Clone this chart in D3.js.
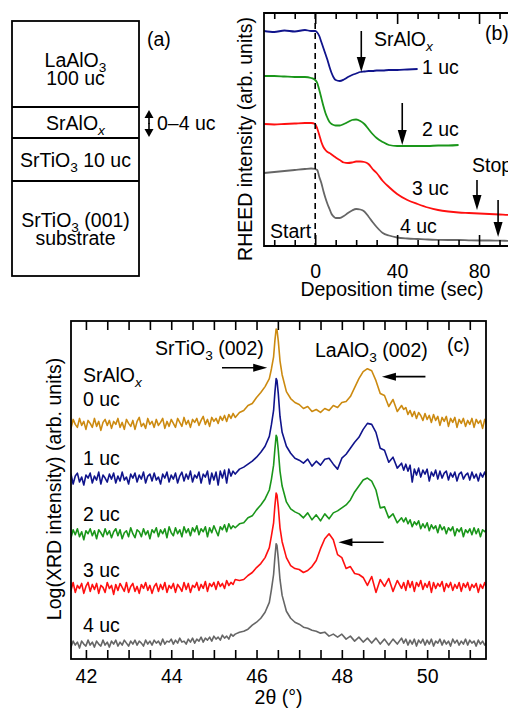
<!DOCTYPE html>
<html>
<head>
<meta charset="utf-8">
<script src="https://cdn.jsdelivr.net/npm/d3@7"></script>
<style>
  body { margin: 0; background: #fff; }
  svg { display: block; font-family: "Liberation Sans", Arial, Helvetica, sans-serif; }
</style>
</head>
<body>
<div id="chart"></div>
<script>
// ---------- data ----------
// (b) RHEED: deposition time (sec) and intensity (arb. units), null = not recorded
let rheedTime = [-25, -20, -15, -10, -5, -2, 0, 1, 2, 3, 4, 5, 6, 7, 8, 9, 10,
    12, 14, 16, 18, 20, 22, 24, 26, 28, 30, 33, 36, 40,
    45, 50, 55, 60, 65, 70, 75, 80, 85, 90, 95, 100];
let rheed1uc = [21.5, 21.4, 21.55, 21.45, 21.6, 21.5, 21.5, 21.35, 21.0, 20.4, 19.8, 19.2, 18.6, 17.9, 17.3, 16.85, 16.6,
    16.5, 16.65, 16.9, 17.1, 17.25, 17.4, 17.45, 17.5, 17.5, 17.55, 17.55, 17.6, 17.6,
    17.65, 17.7, null, null, null, null, null, null, null, null, null, null];
let rheed2uc = [17.0, 17.0, 16.95, 16.9, 16.9, 16.8, 16.6, 16.3, 15.6, 14.8, 14.0, 13.3, 12.8, 12.4, 12.2, 12.1, 12.05,
    12.05, 12.2, 12.4, 12.6, 12.65, 12.5, 12.2, 11.7, 11.2, 10.8, 10.4, 10.1, 10.0,
    10.0, 10.0, 10.0, 10.05, 10.05, 10.1, null, null, null, null, null, null];
let rheed3uc = [12.2, 12.15, 12.2, 12.25, 12.3, 12.3, 12.2, 11.75, 11.1, 10.4, 9.9, 9.6, 9.4, 9.3, 9.15, 9.0, 8.85,
    8.6, 8.35, 8.3, 8.35, 8.45, 8.45, 8.4, 8.2, 7.7, 7.3, 6.5, 5.9, 5.2,
    4.6, 4.2, 3.85, 3.6, 3.45, 3.35, 3.3, 3.25, 3.2, 3.15, 3.1, 3.1];
let rheed4uc = [7.3, 7.4, 7.5, 7.6, 7.7, 7.75, 7.7, 7.6, 6.9, 6.3, 5.5, 4.8, 4.2, 3.7, 3.2, 2.95, 2.8,
    2.8, 3.0, 3.3, 3.55, 3.7, 3.65, 3.45, 2.95, 2.4, 1.9, 1.3, 1.05, 0.85,
    0.75, 0.7, 0.65, 0.62, 0.6, 0.6, 0.57, 0.55, 0.55, 0.53, 0.52, 0.5];
let rheedLabels = ['1 uc', '2 uc', '3 uc', '4 uc'];
let rheedTicks = [0, 40, 80];

// (c) XRD: 2theta (deg) and log intensity above each trace's own background
let twoTheta = [
    41.6, 41.65, 41.7, 41.75, 41.8, 41.85, 41.9, 41.95, 42.0, 42.05,
    42.1, 42.15, 42.2, 42.25, 42.3, 42.35, 42.4, 42.45, 42.5, 42.55,
    42.6, 42.65, 42.7, 42.75, 42.8, 42.85, 42.9, 42.95, 43.0, 43.05,
    43.1, 43.15, 43.2, 43.25, 43.3, 43.35, 43.4, 43.45, 43.5, 43.55,
    43.6, 43.65, 43.7, 43.75, 43.8, 43.85, 43.9, 43.95, 44.0, 44.05,
    44.1, 44.15, 44.2, 44.25, 44.3, 44.35, 44.4, 44.45, 44.5, 44.55,
    44.6, 44.65, 44.7, 44.75, 44.8, 44.85, 44.9, 44.95, 45.0, 45.05,
    45.1, 45.15, 45.2, 45.25, 45.3, 45.35, 45.4, 45.45, 45.5,
    45.6, 45.7, 45.8, 45.9, 46.0, 46.1, 46.2, 46.3,
    46.35, 46.4, 46.43, 46.46, 46.48, 46.51, 46.55,
    46.6, 46.7, 46.8, 46.9, 47.0, 47.1, 47.2, 47.3, 47.4, 47.5,
    47.6, 47.7, 47.8, 47.9, 48.0, 48.1, 48.2, 48.3, 48.4, 48.5,
    48.6, 48.7, 48.8, 48.9, 49.0, 49.1, 49.2, 49.3, 49.4,
    49.45, 49.5, 49.55, 49.6, 49.65, 49.7, 49.75, 49.8, 49.85, 49.9,
    49.95, 50.0, 50.05, 50.1, 50.15, 50.2, 50.25, 50.3, 50.35, 50.4,
    50.45, 50.5, 50.55, 50.6, 50.65, 50.7, 50.75, 50.8, 50.85, 50.9,
    50.95, 51.0, 51.05, 51.1, 51.15, 51.2, 51.25, 51.3, 51.35, 51.4
];
let xrd0uc = [
    0.2, -0.4, 0.5, 0.0, -0.3, 0.6, -0.1, 0.3, -0.5, 0.4,
    0.1, -0.3, 0.6, -0.2, 0.3, -0.6, 0.2, 0.5, -0.1, 0.4,
    -0.4, 0.3, 0.0, 0.6, -0.3, 0.2, -0.5, 0.5, 0.1, -0.2,
    0.4, -0.5, 0.3, 0.7, -0.2, 0.1, -0.4, 0.6, 0.0, 0.3,
    -0.3, 0.5, -0.1, 0.2, 0.6, -0.4, 0.3, -0.2, 0.5, 0.1,
    -0.3, 0.6, 0.2, -0.2, 0.7, 0.0, 0.4, -0.3, 0.5, 0.2,
    0.6, -0.1, 0.4, 0.8, 0.0, 0.5, -0.2, 0.7, 0.3, 0.6,
    0.1, 0.8, 0.4, 0.9, 0.3, 1.0, 0.6, 1.1, 0.7,
    1.2, 1.4, 1.9, 2.1, 2.7, 3.2, 3.8, 4.6,
    5.6, 6.8, 8.4, 9.6, 9.5, 8.4, 6.4,
    5.0, 3.3, 2.6, 2.2, 2.0, 1.6, 1.8, 1.3, 1.5, 1.2,
    1.6, 1.4, 1.9, 1.7, 2.2, 2.3, 2.8, 3.7, 4.6, 5.3,
    5.6, 5.4, 4.4, 3.1, 2.9, 1.8, 2.5, 1.3, 1.9,
    1.5, 1.7, 1.0, 1.4, 0.8, 1.3, 0.6, 1.2, 0.9, 0.4,
    1.1, 0.5, 0.9, 0.2, 1.0, 0.4, 0.8, -0.1, 0.7, 0.3,
    0.8, -0.2, 0.6, 0.2, 0.7, -0.3, 0.5, 0.1, 0.6, -0.2,
    0.4, 0.0, 0.6, -0.3, 0.5, 0.1, 0.4, -0.4, 0.5, 0.0
];
let xrd1uc = [
    -0.3, 0.4, -0.6, 0.2, 0.5, -0.4, 0.1, -0.7, 0.3, 0.0,
    0.5, -0.5, 0.2, -0.2, 0.6, -0.6, 0.3, 0.0, -0.4, 0.4,
    -0.1, 0.5, -0.5, 0.2, -0.3, 0.6, -0.2, 0.1, -0.6, 0.4,
    0.0, 0.5, -0.4, 0.3, -0.1, 0.6, -0.5, 0.2, 0.4, -0.3,
    0.5, -0.2, 0.1, -0.6, 0.4, 0.0, 0.6, -0.4, 0.3, -0.1,
    0.5, -0.5, 0.2, 0.6, -0.3, 0.4, -0.1, 0.7, -0.4, 0.3,
    0.0, 0.6, -0.5, 0.4, 0.1, 0.7, -0.6, 0.5, -0.2, 0.6,
    -0.7, 0.7, 0.0, 0.8, -0.5, 0.9, 0.2, 0.7, 0.4,
    0.9, 1.1, 1.4, 1.7, 2.1, 2.6, 3.2, 4.2,
    5.4, 6.8, 8.6, 10.0, 9.8, 8.5, 6.2,
    4.6, 3.2, 2.5, 2.0, 1.8, 1.5, 1.9, 1.2, 1.7, 1.3,
    1.9, 2.0, 1.4, 0.9, 2.0, 2.4, 3.0, 3.6, 4.1, 4.9,
    5.5, 5.4, 4.6, 3.0, 2.8, 1.6, 2.1, 1.0, 1.5,
    0.8, 1.4, 0.7, 1.3, -0.4, 0.9, 0.3, 1.0, 0.1, 0.8,
    0.4, 0.9, -0.3, 0.6, 0.2, 0.8, -0.1, 0.7, 0.0, 0.5,
    0.7, -0.2, 0.5, 0.1, 0.6, -0.3, 0.4, 0.6, -0.1, 0.3,
    0.5, -0.2, 0.6, 0.0, 0.4, -0.3, 0.5, 0.1, 0.6, 0.0
];
let xrd2uc = [
    0.2, -0.4, 0.4, -0.1, 0.5, -0.3, 0.2, -0.6, 0.3, 0.0,
    0.5, -0.2, 0.3, -0.5, 0.4, 0.1, -0.3, 0.5, -0.1, 0.3,
    -0.4, 0.2, 0.5, -0.2, 0.4, -0.5, 0.1, 0.3, -0.3, 0.6,
    0.0, -0.4, 0.4, 0.2, -0.3, 0.5, -0.1, 0.3, -0.5, 0.4,
    0.1, 0.6, -0.3, 0.4, 0.0, 0.5, -0.4, 0.7, 0.1, -0.2,
    0.6, 0.0, 0.4, -0.3, 0.7, 0.1, 0.5, -0.2, 0.6, 0.2,
    0.8, -0.1, 0.5, 0.2, 0.7, -0.3, 0.6, 0.1, 0.8, 0.3,
    -0.2, 0.7, 0.4, 0.9, 0.2, 1.0, 0.5, 0.8, 0.6,
    1.0, 1.1, 1.6, 1.8, 2.4, 2.9, 3.5, 4.4,
    5.5, 6.9, 8.5, 9.9, 9.7, 8.4, 6.3,
    4.8, 3.2, 2.5, 2.2, 2.0, 1.6, 2.1, 1.4, 1.9, 1.3,
    2.0, 1.5, 2.1, 2.3, 2.6, 2.9, 3.4, 4.2, 4.8, 5.4,
    5.6, 5.3, 4.4, 2.6, 2.7, 1.6, 2.0, 1.1, 1.6,
    1.2, 1.6, 1.0, 1.4, 0.7, 1.2, 0.9, 1.3, 0.5, 1.0,
    0.6, 1.1, 0.3, 0.9, 0.5, 0.8, 0.1, 0.9, 0.4, 0.7,
    0.0, 0.6, 0.3, 0.7, -0.2, 0.5, 0.2, 0.6, -0.3, 0.4,
    0.1, 0.5, -0.1, 0.6, 0.0, 0.5, -0.3, 0.4, 0.2, 0.5
];
let xrd3uc = [
    0.4, -0.2, 0.6, -0.4, 0.3, 0.0, 0.5, -0.5, 0.2, 0.6,
    -0.3, 0.4, -0.1, 0.5, -0.5, 0.3, 0.1, -0.4, 0.6, 0.0,
    0.3, -0.6, 0.4, -0.2, 0.5, 0.1, -0.3, 0.6, -0.4, 0.2,
    0.5, -0.3, 0.2, -0.5, 0.4, 0.0, 0.6, -0.2, 0.3, -0.5,
    0.2, 0.5, -0.3, 0.4, -0.1, 0.6, -0.4, 0.3, 0.0, 0.5,
    -0.4, 0.4, 0.1, -0.3, 0.6, -0.1, 0.5, -0.4, 0.3, 0.1,
    0.6, -0.2, 0.4, 0.0, 0.7, -0.3, 0.5, 0.2, 0.6, -0.1,
    0.7, 0.2, 0.5, 0.0, 0.8, 0.3, 0.6, 0.4, 0.9,
    0.8, 0.9, 1.3, 1.6, 2.1, 2.5, 3.1, 4.1,
    5.3, 6.6, 8.3, 9.6, 9.4, 8.2, 6.1,
    4.7, 3.1, 2.3, 2.0, 1.9, 1.6, 1.8, 2.2, 2.8, 4.0,
    5.0, 5.5, 4.9, 3.4, 3.1, 2.0, 2.2, 1.5, 1.4, 1.1,
    0.3, 1.2, -0.4, 0.9, 0.2, 1.0, -0.3, 0.8, 0.0,
    0.6, -0.2, 0.8, 0.1, 0.7, -0.3, 0.6, 0.2, 0.8, -0.1,
    0.5, 0.1, 0.7, -0.4, 0.6, 0.0, 0.5, 0.2, 0.7, -0.3,
    0.5, 0.1, 0.6, -0.2, 0.4, 0.0, 0.6, -0.3, 0.5, 0.1,
    0.6, -0.2, 0.4, 0.1, 0.5, -0.4, 0.4, 0.0, 0.6, -0.1
];
let xrd4uc = [
    0.1, -0.3, 0.3, -0.1, 0.2, -0.4, 0.3, 0.0, -0.2, 0.4,
    -0.1, 0.2, -0.3, 0.3, 0.0, -0.2, 0.4, -0.1, 0.2, -0.3,
    0.3, 0.0, 0.4, -0.2, 0.2, -0.1, 0.4, 0.1, -0.2, 0.3,
    0.0, 0.4, -0.1, 0.3, 0.1, -0.2, 0.4, 0.0, 0.3, -0.1,
    0.4, 0.1, 0.3, -0.1, 0.5, 0.0, 0.3, 0.2, 0.5, 0.0,
    0.4, 0.1, 0.6, 0.2, 0.3, 0.0, 0.5, 0.2, 0.6, 0.1,
    0.5, 0.3, 0.7, 0.2, 0.6, 0.4, 0.7, 0.3, 0.8, 0.5,
    0.7, 0.4, 0.9, 0.6, 0.8, 0.5, 1.0, 0.8, 1.0,
    1.2, 1.3, 1.5, 1.9, 2.2, 2.6, 3.2, 4.2,
    5.5, 7.0, 8.7, 10.1, 9.9, 8.6, 6.5,
    4.9, 3.3, 2.6, 2.2, 2.0, 1.7, 1.6, 1.4, 1.3, 1.1,
    1.2, 0.8, 1.0, 0.7, 1.0, 0.5, 0.8, 0.3, 0.7, 0.2,
    0.6, 0.1, 0.6, 0.0, 0.5, -0.1, 0.5, 0.0, 0.6,
    0.1, 0.5, -0.1, 0.4, 0.0, 0.5, -0.2, 0.4, 0.1, 0.5,
    -0.1, 0.4, 0.0, 0.5, -0.2, 0.3, 0.1, 0.5, -0.1, 0.4,
    0.0, 0.3, -0.2, 0.5, 0.1, 0.4, -0.1, 0.3, 0.0, 0.5,
    -0.1, 0.4, 0.1, 0.3, -0.2, 0.4, 0.0, 0.3, -0.1, 0.2
];
// vertical stacking of the XRD traces (background level of each)
let xrdOffsets = [23.6, 18.2, 12.6, 7.1, 1.5];
let xrdLabels = ['0 uc', '1 uc', '2 uc', '3 uc', '4 uc'];
let xrdTicks = [42, 44, 46, 48, 50];

// ---------- drawing ----------
let width = 508;
let height = 711;
let fontSize = 19.5;
let colors = ['#cc8a10', '#10148c', '#1a961a', '#ff1010', '#666666'];

let svg = d3.select('#chart')
    .append('svg')
    .attr('width', width)
    .attr('height', height);

svg.append('rect')
    .attr('width', width)
    .attr('height', height)
    .attr('fill', '#fff');

// text with subscripts: parts are strings or {sub: '3'} / {sub: 'x', italic: true}
function richText(g, x, y, parts, anchor) {
    let t = g.append('text')
        .attr('x', x)
        .attr('y', y)
        .attr('font-size', fontSize)
        .attr('text-anchor', anchor || 'start')
        .attr('fill', '#000');
    let down = false;
    parts.forEach(function(p) {
        if (typeof p === 'string') {
            t.append('tspan').attr('dy', down ? -5 : 0).text(p);
            down = false;
        } else {
            t.append('tspan')
                .attr('dy', 5)
                .attr('font-size', fontSize * 0.7)
                .attr('font-style', p.italic ? 'italic' : 'normal')
                .text(p.sub);
            down = true;
        }
    });
    return t;
}

function arrow(g, x1, y1, x2, y2, len, half) {
    let dx = x2 - x1, dy = y2 - y1;
    let d = Math.sqrt(dx * dx + dy * dy);
    let ux = dx / d, uy = dy / d;
    let bx = x2 - ux * len, by = y2 - uy * len;
    g.append('line')
        .attr('x1', x1).attr('y1', y1)
        .attr('x2', bx + ux * 2).attr('y2', by + uy * 2)
        .attr('stroke', '#000')
        .attr('stroke-width', 1.6);
    g.append('path')
        .attr('d', 'M' + x2 + ',' + y2 +
            'L' + (bx - uy * half) + ',' + (by + ux * half) +
            'L' + (bx + uy * half) + ',' + (by - ux * half) + 'Z')
        .attr('fill', '#000');
}

// ---- (a) layer stack ----
let stack = svg.append('g');
let stackX = 12, stackW = 127;
let edges = [21, 107, 138, 181, 276];
stack.append('rect')
    .attr('x', stackX).attr('y', edges[0])
    .attr('width', stackW).attr('height', edges[4] - edges[0])
    .attr('fill', 'none').attr('stroke', '#000').attr('stroke-width', 1.8);
edges.slice(1, 4).forEach(function(e) {
    stack.append('line')
        .attr('x1', stackX).attr('x2', stackX + stackW)
        .attr('y1', e).attr('y2', e)
        .attr('stroke', '#000').attr('stroke-width', 1.8);
});
let cx = stackX + stackW / 2;
richText(stack, cx, 67, ['LaAlO', {sub: '3'}], 'middle');
richText(stack, cx, 85, ['100 uc'], 'middle');
richText(stack, cx, 130, ['SrAlO', {sub: 'x', italic: true}], 'middle');
richText(stack, cx, 167, ['SrTiO', {sub: '3'}, ' 10 uc'], 'middle');
richText(stack, cx, 227, ['SrTiO', {sub: '3'}, ' (001)'], 'middle');
richText(stack, cx, 245, ['substrate'], 'middle');
richText(stack, 147, 46, ['(a)']);
arrow(stack, 149, 124, 149, 110, 8, 4.5);
arrow(stack, 149, 123, 149, 137, 8, 4.5);
richText(stack, 157, 130, ['0–4 uc']);

// ---- (b) RHEED ----
let rheedX = d3.scaleLinear().domain([-25, 100]).range([264, 520]);
let rheedY = d3.scaleLinear().domain([0, 23.3]).range([246, 13]);

svg.append('clipPath').attr('id', 'clipB')
    .append('rect')
    .attr('x', 264).attr('y', 13).attr('width', 256).attr('height', 233);

let rheedSeries = [rheed1uc, rheed2uc, rheed3uc, rheed4uc];
let rheedLine = d3.line()
    .defined(function(d) { return d[1] !== null; })
    .x(function(d) { return rheedX(d[0]); })
    .y(function(d) { return rheedY(d[1]); })
    .curve(d3.curveMonotoneX);

let gB = svg.append('g');
gB.append('g').attr('clip-path', 'url(#clipB)')
    .selectAll('path')
    .data(rheedSeries)
    .enter()
    .append('path')
    .attr('d', function(s) {
        return rheedLine(rheedTime.map(function(t, i) { return [t, s[i]]; }));
    })
    .attr('fill', 'none')
    .attr('stroke', function(s, i) { return colors[i + 1]; })
    .attr('stroke-width', 1.8);

// start marker
gB.append('line')
    .attr('x1', rheedX(0)).attr('x2', rheedX(0))
    .attr('y1', rheedY(23.3)).attr('y2', rheedY(0))
    .attr('stroke', '#000').attr('stroke-width', 1.6)
    .attr('stroke-dasharray', '6,4');

// axes, ticks pointing inward
function styleAxis(g) {
    g.select('.domain').remove();
    g.selectAll('line').attr('stroke-width', 1.6);
}
let rheedMinor = [-20, -10, 10, 20, 30, 50, 60, 70, 90, 100];
gB.append('g').attr('transform', 'translate(0,246)')
    .call(d3.axisBottom(rheedX).tickValues(rheedMinor).tickSize(-6).tickFormat(''))
    .call(styleAxis);
gB.append('g').attr('transform', 'translate(0,13)')
    .call(d3.axisTop(rheedX).tickValues(rheedMinor).tickSize(-6).tickFormat(''))
    .call(styleAxis);
gB.append('g').attr('transform', 'translate(0,13)')
    .call(d3.axisTop(rheedX).tickValues(rheedTicks).tickSize(-11).tickFormat(''))
    .call(styleAxis);
gB.append('g').attr('transform', 'translate(0,246)')
    .call(d3.axisBottom(rheedX).tickValues(rheedTicks).tickSize(-11))
    .call(styleAxis)
    .call(function(g) {
        g.selectAll('text')
            .attr('y', 32).attr('dy', 0)
            .attr('font-size', fontSize)
            .attr('font-family', '"Liberation Sans", Arial, sans-serif')
            .attr('fill', '#000');
    });
gB.append('path')
    .attr('d', 'M520,13H264V246H520')
    .attr('fill', 'none').attr('stroke', '#000').attr('stroke-width', 1.8);

richText(gB, 392, 296, ['Deposition time (sec)'], 'middle');
richText(gB, 0, 0, ['RHEED intensity (arb. units)'], 'middle')
    .attr('transform', 'translate(252,139) rotate(-90)');
richText(gB, 485, 40, ['(b)']);
richText(gB, 374, 46, ['SrAlO', {sub: 'x', italic: true}]);
richText(gB, 422, 74, [rheedLabels[0]]);
richText(gB, 422, 136, [rheedLabels[1]]);
richText(gB, 412, 195, [rheedLabels[2]]);
richText(gB, 400, 233, [rheedLabels[3]]);
richText(gB, 472, 172, ['Stop']);
richText(gB, 270, 238, ['Start']);

arrow(gB, rheedX(22.5), rheedY(21.5), rheedX(22.5), rheedY(17.4), 15, 4.5);
arrow(gB, rheedX(42.5), rheedY(14.3), rheedX(42.5), rheedY(10.1), 15, 4.5);
arrow(gB, rheedX(79), rheedY(6.6), rheedX(79), rheedY(3.6), 15, 4.5);
arrow(gB, rheedX(89.3), rheedY(4.6), rheedX(89.3), rheedY(0.9), 15, 4.5);

// ---- (c) XRD ----
let xrdX = d3.scaleLinear().domain([41.65, 51.38]).range([71, 486]);
let xrdY = d3.scaleLinear().domain([0, 34]).range([659, 321]);

svg.append('clipPath').attr('id', 'clipC')
    .append('rect')
    .attr('x', 71).attr('y', 321).attr('width', 415).attr('height', 338);

let xrdSeries = [xrd0uc, xrd1uc, xrd2uc, xrd3uc, xrd4uc];
let gC = svg.append('g');
gC.append('g').attr('clip-path', 'url(#clipC)')
    .selectAll('path')
    .data(xrdSeries)
    .enter()
    .append('path')
    .attr('d', function(s, k) {
        return d3.line()
            .x(function(d, i) { return xrdX(twoTheta[i]); })
            .y(function(d) { return xrdY(d + xrdOffsets[k]); })(s);
    })
    .attr('fill', 'none')
    .attr('stroke', function(s, i) { return colors[i]; })
    .attr('stroke-width', 1.6)
    .attr('stroke-linejoin', 'round');

let xrdMinor = [41.5, 42, 42.5, 43, 43.5, 44, 44.5, 45, 45.5, 46, 46.5, 47, 47.5, 48, 48.5, 49, 49.5, 50, 50.5, 51, 51.5]
    .filter(function(v) { return v > 41.65 && v < 51.38; });
gC.append('g').attr('transform', 'translate(0,321)')
    .call(d3.axisTop(xrdX).tickValues(xrdMinor).tickSize(-9).tickFormat(''))
    .call(styleAxis);
gC.append('g').attr('transform', 'translate(0,659)')
    .call(d3.axisBottom(xrdX).tickValues(xrdMinor).tickSize(-9)
        .tickFormat(function(d) { return xrdTicks.indexOf(d) >= 0 ? d : ''; }))
    .call(styleAxis)
    .call(function(g) {
        g.selectAll('text')
            .attr('y', 24).attr('dy', 0)
            .attr('font-size', fontSize)
            .attr('font-family', '"Liberation Sans", Arial, sans-serif')
            .attr('fill', '#000');
    });
gC.append('rect')
    .attr('x', 71).attr('y', 321).attr('width', 415).attr('height', 338)
    .attr('fill', 'none').attr('stroke', '#000').attr('stroke-width', 1.8);

richText(gC, 278.5, 704, ['2θ (°)'], 'middle');
richText(gC, 0, 0, ['Log(XRD intensity) (arb. units)'], 'middle')
    .attr('transform', 'translate(61,489) rotate(-90)');
richText(gC, 447, 352, ['(c)']);
richText(gC, 155, 355, ['SrTiO', {sub: '3'}, ' (002)']);
richText(gC, 315, 357, ['LaAlO', {sub: '3'}, ' (002)']);
richText(gC, 83, 382, ['SrAlO', {sub: 'x', italic: true}]);
let labelBase = [406, 465, 521, 577, 632];
xrdLabels.forEach(function(l, i) {
    richText(gC, 83, labelBase[i], [l]);
});

arrow(gC, xrdX(45.19), xrdY(29.3), xrdX(46.25), xrdY(29.3), 14, 4);
arrow(gC, xrdX(49.96), xrdY(28.4), xrdX(48.94), xrdY(28.4), 14, 4);
arrow(gC, xrdX(48.98), xrdY(11.74), xrdX(47.92), xrdY(11.74), 14, 4);
</script>
</body>
</html>
